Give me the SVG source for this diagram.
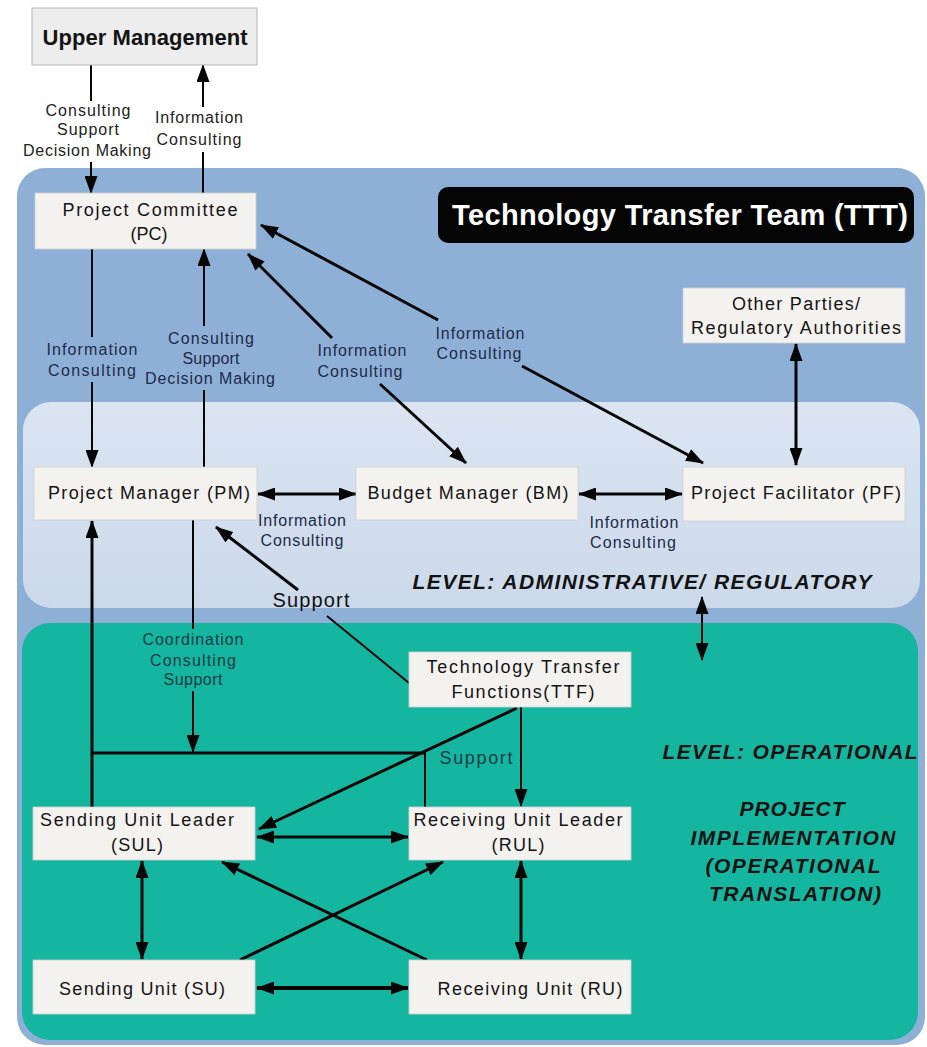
<svg xmlns="http://www.w3.org/2000/svg" width="927" height="1047" viewBox="0 0 927 1047">
  <defs>
    <style>
      .bx{fill:#f4f2ef;stroke:#cfcfcf;stroke-width:0.8}
      .bt{font-family:"Liberation Sans",Arial,sans-serif;font-size:18px;fill:#141414;text-anchor:middle}
      .lb{font-family:"Liberation Sans",Arial,sans-serif;font-size:16px;fill:#1c2b48;text-anchor:middle}
      .lw{fill:#222222}
      .lt{fill:#0c3b44}
      .lv{font-family:"Liberation Sans",Arial,sans-serif;font-size:21px;font-weight:bold;font-style:italic;fill:#121212;text-anchor:middle}
      .ln{stroke:#060606;stroke-width:2;fill:none}
      .w3{stroke-width:3}
      .w4{stroke-width:4}
      .ae{marker-end:url(#ah)}
      .ab{marker-start:url(#ah);marker-end:url(#ah)}
    </style>
    <marker id="ah" viewBox="0 0 18 13" refX="17" refY="6.5" markerWidth="18" markerHeight="13" markerUnits="userSpaceOnUse" orient="auto-start-reverse">
      <path d="M0,0 L18,6.5 L0,13 z" fill="#060606"/>
    </marker>
    <linearGradient id="adminFill" x1="0" y1="0" x2="0" y2="1">
      <stop offset="0" stop-color="#dbe5f2"/>
      <stop offset="1" stop-color="#ccd9ea"/>
    </linearGradient>
  </defs>

  <rect width="927" height="1047" fill="#ffffff"/>

  <!-- team area and its two levels -->
  <g id="panels">
    <rect x="17" y="168" width="908" height="877" rx="28" fill="#8eb0d7"/>
    <rect x="23" y="402" width="897" height="206" rx="28" fill="url(#adminFill)"/>
    <rect x="22" y="623" width="896" height="417" rx="28" fill="#15b6a0"/>
  </g>

  <g id="ttt-title">
    <rect x="438" y="187" width="476" height="56" rx="10" fill="#050505"/>
    <text x="680" y="225" font-family="'Liberation Sans',Arial,sans-serif" font-size="29" font-weight="bold" fill="#ffffff" text-anchor="middle" textLength="456" lengthAdjust="spacing">Technology Transfer Team (TTT)</text>
  </g>

  <!-- connectors -->
  <g id="connectors">
    <!-- Upper Management <-> Project Committee -->
    <line class="ln" x1="91" y1="65" x2="91" y2="101"/>
    <line class="ln ae" x1="91" y1="162" x2="91" y2="193"/>
    <line class="ln" x1="203" y1="193" x2="203" y2="152"/>
    <line class="ln ae" x1="203" y1="107" x2="203" y2="65"/>

    <!-- Project Committee -> Project Manager -->
    <line class="ln" x1="92" y1="249" x2="92" y2="337"/>
    <line class="ln ae" x1="92" y1="382" x2="92" y2="467"/>
    <!-- Project Manager -> Project Committee -->
    <line class="ln" x1="204" y1="467" x2="204" y2="390"/>
    <line class="ln ae" x1="204" y1="326" x2="204" y2="249"/>

    <!-- Budget Manager <-> Project Committee -->
    <line class="ln w3 ae" x1="332" y1="338" x2="248" y2="254"/>
    <line class="ln w3 ae" x1="380" y1="384" x2="466" y2="463"/>

    <!-- Project Facilitator <-> Project Committee -->
    <line class="ln w3 ae" x1="438" y1="320" x2="261" y2="225"/>
    <line class="ln w3 ae" x1="522" y1="366" x2="703" y2="463"/>

    <!-- Other Parties <-> Project Facilitator -->
    <line class="ln w3 ab" x1="796" y1="344" x2="796" y2="465"/>

    <!-- PM <-> BM <-> PF -->
    <line class="ln w3 ab" x1="258" y1="494" x2="356" y2="494"/>
    <line class="ln w3 ab" x1="579" y1="494" x2="682" y2="494"/>

    <!-- administrative <-> operational level -->
    <line class="ln ab" x1="702" y1="597" x2="702" y2="660"/>

    <!-- SUL -> PM -->
    <line class="ln w3 ae" x1="92" y1="807" x2="92" y2="521"/>

    <!-- PM coordination down to the unit leaders -->
    <line class="ln" x1="193" y1="520" x2="193" y2="629"/>
    <line class="ln ae" x1="193" y1="691" x2="193" y2="752"/>
    <line class="ln w3" x1="92" y1="753" x2="426" y2="753"/>
    <line class="ln" x1="425" y1="753" x2="425" y2="807"/>

    <!-- TTF support -> PM -->
    <line class="ln" x1="409" y1="683" x2="327" y2="616"/>
    <line class="ln w3 ae" x1="298" y1="590" x2="216" y2="527"/>

    <!-- TTF -> RUL, TTF -> SUL -->
    <line class="ln ae" x1="521" y1="707" x2="521" y2="806"/>
    <line class="ln w3 ae" x1="517" y1="708" x2="259" y2="829"/>

    <!-- leaders and units -->
    <line class="ln w3 ab" x1="257" y1="837" x2="408" y2="837"/>
    <line class="ln w3 ab" x1="142" y1="861" x2="142" y2="959"/>
    <line class="ln w3 ab" x1="521" y1="861" x2="521" y2="959"/>
    <line class="ln w4 ab" x1="257" y1="988" x2="408" y2="988"/>
    <line class="ln w3 ae" x1="240" y1="960" x2="443" y2="862"/>
    <line class="ln w3 ae" x1="427" y1="960" x2="222" y2="862"/>
  </g>

  <!-- connector labels -->
  <g id="labels">
    <text class="lb lw" x="88" y="116" textLength="85" lengthAdjust="spacing">Consulting</text>
    <text class="lb lw" x="88" y="135" textLength="62" lengthAdjust="spacing">Support</text>
    <text class="lb lw" x="87" y="156" textLength="128" lengthAdjust="spacing">Decision Making</text>
    <text class="lb lw" x="199" y="123" textLength="88" lengthAdjust="spacing">Information</text>
    <text class="lb lw" x="199" y="145" textLength="85" lengthAdjust="spacing">Consulting</text>

    <text class="lb" x="92" y="355" textLength="91" lengthAdjust="spacing">Information</text>
    <text class="lb" x="92" y="376" textLength="88" lengthAdjust="spacing">Consulting</text>
    <text class="lb" x="211" y="344" textLength="86" lengthAdjust="spacing">Consulting</text>
    <text class="lb" x="211" y="364" textLength="57" lengthAdjust="spacing">Support</text>
    <text class="lb" x="210" y="384" textLength="130" lengthAdjust="spacing">Decision Making</text>
    <text class="lb" x="362" y="356" textLength="89" lengthAdjust="spacing">Information</text>
    <text class="lb" x="360" y="377" textLength="85" lengthAdjust="spacing">Consulting</text>
    <text class="lb" x="480" y="339" textLength="89" lengthAdjust="spacing">Information</text>
    <text class="lb" x="479" y="359" textLength="85" lengthAdjust="spacing">Consulting</text>

    <text class="lb" x="302" y="526" textLength="88" lengthAdjust="spacing">Information</text>
    <text class="lb" x="302" y="546" textLength="83" lengthAdjust="spacing">Consulting</text>
    <text class="lb" x="634" y="528" textLength="89" lengthAdjust="spacing">Information</text>
    <text class="lb" x="633" y="548" textLength="86" lengthAdjust="spacing">Consulting</text>
    <text class="lb" x="311" y="607" style="font-size:20px;fill:#111111" textLength="77" lengthAdjust="spacing">Support</text>

    <text class="lb lt" x="193" y="645" textLength="101" lengthAdjust="spacing">Coordination</text>
    <text class="lb lt" x="193" y="666" textLength="86" lengthAdjust="spacing">Consulting</text>
    <text class="lb lt" x="193" y="685" textLength="59" lengthAdjust="spacing">Support</text>
    <text class="lb lt" x="476" y="764" style="font-size:18px" textLength="73" lengthAdjust="spacing">Support</text>
  </g>

  <!-- level captions -->
  <g id="levels">
    <text class="lv" x="642" y="589" textLength="459" lengthAdjust="spacing">LEVEL: ADMINISTRATIVE/ REGULATORY</text>
    <text class="lv" x="790" y="759" textLength="255" lengthAdjust="spacing">LEVEL: OPERATIONAL</text>
    <text class="lv" x="792" y="816" textLength="105" lengthAdjust="spacing">PROJECT</text>
    <text class="lv" x="793" y="845" textLength="205" lengthAdjust="spacing">IMPLEMENTATION</text>
    <text class="lv" x="793" y="873" textLength="175" lengthAdjust="spacing">(OPERATIONAL</text>
    <text class="lv" x="795" y="901" textLength="172" lengthAdjust="spacing">TRANSLATION)</text>
  </g>

  <!-- nodes -->
  <g id="upper-management">
    <rect x="32" y="8" width="225" height="57" fill="#ededed" stroke="#b4b4b4" stroke-width="1"/>
    <text class="bt" x="145" y="45" style="font-size:22px;font-weight:bold" textLength="205" lengthAdjust="spacing">Upper Management</text>
  </g>
  <g id="project-committee">
    <rect class="bx" x="35" y="193" width="221" height="56"/>
    <text class="bt" x="150" y="216" textLength="175" lengthAdjust="spacing">Project Committee</text>
    <text class="bt" x="149" y="240">(PC)</text>
  </g>
  <g id="other-parties">
    <rect class="bx" x="683" y="288" width="222" height="55"/>
    <text class="bt" x="796" y="310" textLength="128" lengthAdjust="spacing">Other Parties/</text>
    <text class="bt" x="796" y="334" textLength="210" lengthAdjust="spacing">Regulatory Authorities</text>
  </g>
  <g id="project-manager">
    <rect class="bx" x="34" y="467" width="223" height="53"/>
    <text class="bt" x="149" y="499" textLength="202" lengthAdjust="spacing">Project Manager (PM)</text>
  </g>
  <g id="budget-manager">
    <rect class="bx" x="356" y="467" width="222" height="53"/>
    <text class="bt" x="468" y="499" textLength="201" lengthAdjust="spacing">Budget Manager (BM)</text>
  </g>
  <g id="project-facilitator">
    <rect class="bx" x="683" y="467" width="222" height="54"/>
    <text class="bt" x="796" y="499" textLength="210" lengthAdjust="spacing">Project Facilitator (PF)</text>
  </g>
  <g id="ttf">
    <rect class="bx" x="409" y="652" width="222" height="55"/>
    <text class="bt" x="523" y="673" textLength="193" lengthAdjust="spacing">Technology Transfer</text>
    <text class="bt" x="523" y="698" textLength="143" lengthAdjust="spacing">Functions(TTF)</text>
  </g>
  <g id="sending-unit-leader">
    <rect class="bx" x="33" y="807" width="222" height="53"/>
    <text class="bt" x="137" y="826" textLength="194" lengthAdjust="spacing">Sending Unit Leader</text>
    <text class="bt" x="137" y="851" textLength="52" lengthAdjust="spacing">(SUL)</text>
  </g>
  <g id="receiving-unit-leader">
    <rect class="bx" x="409" y="807" width="222" height="53"/>
    <text class="bt" x="518" y="826" textLength="209" lengthAdjust="spacing">Receiving Unit Leader</text>
    <text class="bt" x="518" y="851" textLength="53" lengthAdjust="spacing">(RUL)</text>
  </g>
  <g id="sending-unit">
    <rect class="bx" x="33" y="960" width="222" height="54"/>
    <text class="bt" x="142" y="995" textLength="166" lengthAdjust="spacing">Sending Unit (SU)</text>
  </g>
  <g id="receiving-unit">
    <rect class="bx" x="409" y="960" width="222" height="54"/>
    <text class="bt" x="530" y="995" textLength="185" lengthAdjust="spacing">Receiving Unit (RU)</text>
  </g>
</svg>
